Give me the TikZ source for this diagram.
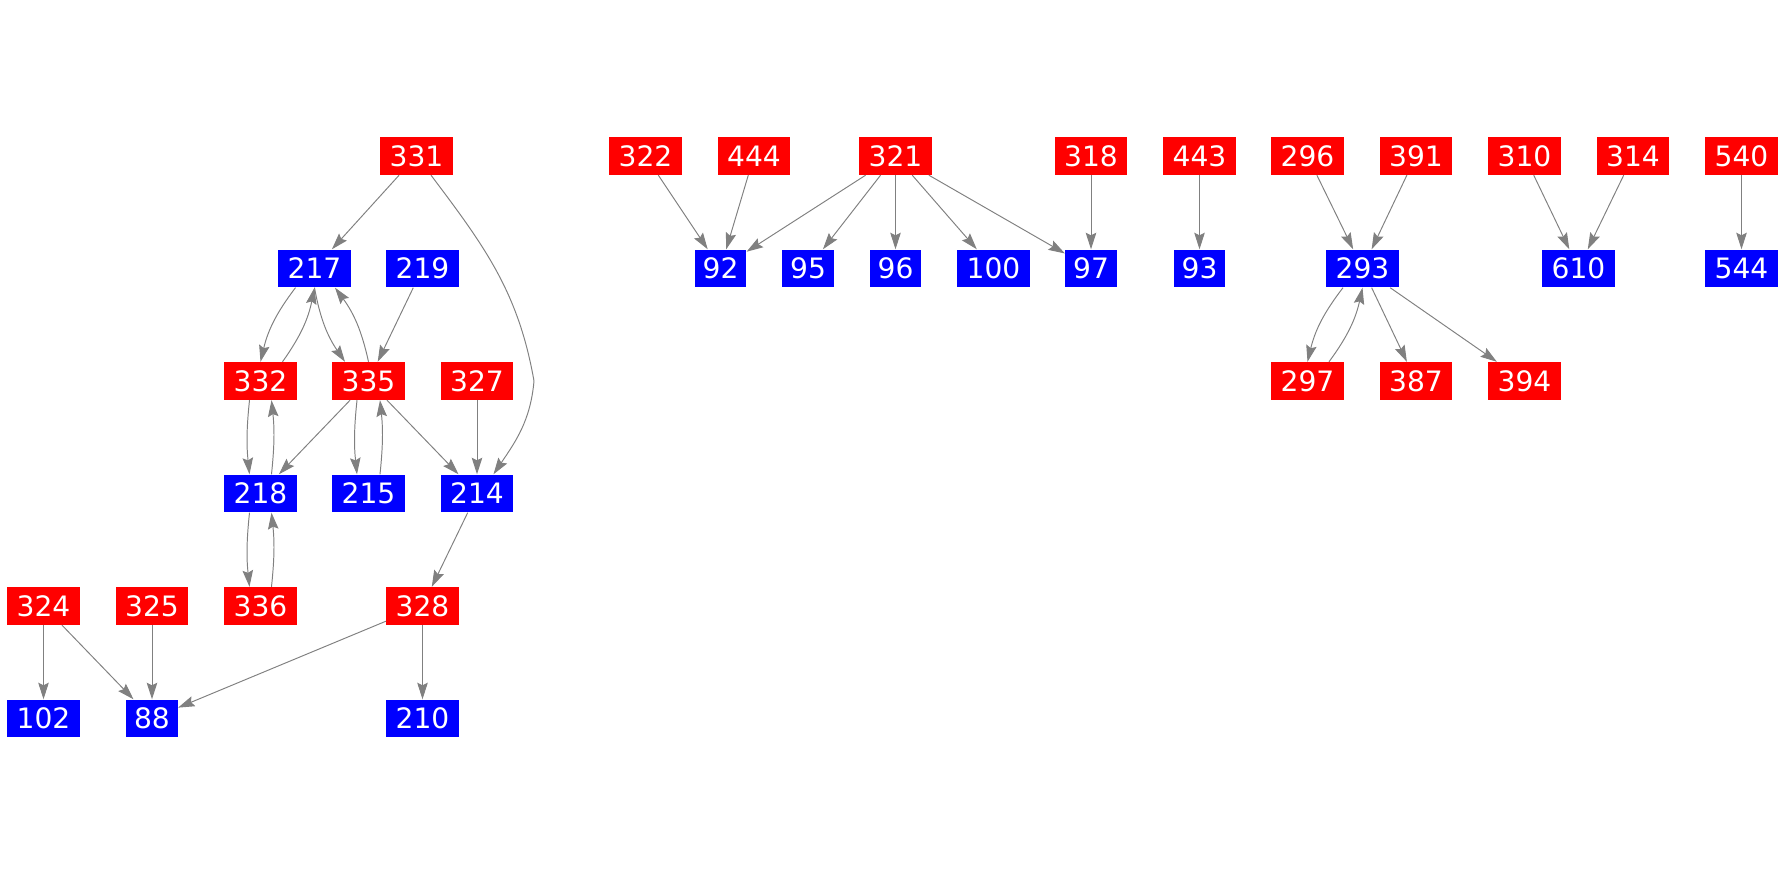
\documentclass[tikz,border=0pt]{standalone}
\usepackage{fontspec}
\setmainfont{DejaVu Sans}
\usetikzlibrary{arrows.meta}

\begin{document}
\begin{tikzpicture}[
  knoten/.style={rectangle, inner sep=0pt, minimum width=1.45cm, minimum height=0.754cm,
    text=white, font=\fontsize{16pt}{19pt}\selectfont},
  rot/.style={knoten, fill=red},
  blau/.style={knoten, fill=blue},
  schmal/.style={minimum width=1.03cm},
  kante/.style={draw=gray, line width=0.55pt, -{Stealth[length=0.33cm, width=0.21cm, inset=0.05cm]}}
]
  \useasboundingbox (0,0) rectangle (35.7,17.5);

  % Zeile 1
  \node[rot] (n331) at (8.33,14.38) {331};
  \node[rot] (n322) at (12.91,14.38) {322};
  \node[rot] (n444) at (15.08,14.38) {444};
  \node[rot] (n321) at (17.91,14.38) {321};
  \node[rot] (n318) at (21.82,14.38) {318};
  \node[rot] (n443) at (23.99,14.38) {443};
  \node[rot] (n296) at (26.15,14.38) {296};
  \node[rot] (n391) at (28.32,14.38) {391};
  \node[rot] (n310) at (30.49,14.38) {310};
  \node[rot] (n314) at (32.66,14.38) {314};
  \node[rot] (n540) at (34.83,14.38) {540};

  % Zeile 2
  \node[blau] (n217) at (6.29,12.13) {217};
  \node[blau] (n219) at (8.45,12.13) {219};
  \node[blau,schmal] (n92) at (14.41,12.13) {92};
  \node[blau,schmal] (n95) at (16.16,12.13) {95};
  \node[blau,schmal] (n96) at (17.91,12.13) {96};
  \node[blau] (n100) at (19.87,12.13) {100};
  \node[blau,schmal] (n97) at (21.82,12.13) {97};
  \node[blau,schmal] (n93) at (23.99,12.13) {93};
  \node[blau] (n293) at (27.25,12.13) {293};
  \node[blau] (n610) at (31.57,12.13) {610};
  \node[blau] (n544) at (34.83,12.13) {544};

  % Zeile 3
  \node[rot] (n332) at (5.21,9.88) {332};
  \node[rot] (n335) at (7.37,9.88) {335};
  \node[rot] (n327) at (9.54,9.88) {327};
  \node[rot] (n297) at (26.15,9.88) {297};
  \node[rot] (n387) at (28.32,9.88) {387};
  \node[rot] (n394) at (30.49,9.88) {394};

  % Zeile 4
  \node[blau] (n218) at (5.21,7.63) {218};
  \node[blau] (n215) at (7.37,7.63) {215};
  \node[blau] (n214) at (9.54,7.63) {214};

  % Zeile 5
  \node[rot] (n324) at (0.87,5.38) {324};
  \node[rot] (n325) at (3.04,5.38) {325};
  \node[rot] (n336) at (5.21,5.38) {336};
  \node[rot] (n328) at (8.45,5.38) {328};

  % Zeile 6
  \node[blau] (n102) at (0.87,3.13) {102};
  \node[blau,schmal] (n88) at (3.04,3.13) {88};
  \node[blau] (n210) at (8.45,3.13) {210};

  % Kanten links
  \coordinate (k331) at (10.68,9.88);
  \draw[kante] (n331) -- (n217);
  \draw[kante] ([xshift=0.29cm]n331.south) to[out=-53,in=100] (k331) to[out=-95,in=56] ([xshift=0.33cm]n214.north);
  \draw[kante] ([xshift=-0.38cm]n217.south) to[bend right=12] (n332.north);
  \draw[kante] ([xshift=0.44cm]n332.north) to[bend right=12] (n217.south);
  \draw[kante] (n217.south) to[bend right=12] ([xshift=-0.47cm]n335.north);
  \draw[kante] (n335.north) to[bend right=12] ([xshift=0.41cm]n217.south);
  \draw[kante] (n219) -- (n335);
  \draw[kante] ([xshift=-0.22cm]n332.south) to[bend right=6] ([xshift=-0.22cm]n218.north);
  \draw[kante] ([xshift=0.22cm]n218.north) to[bend right=6] ([xshift=0.22cm]n332.south);
  \draw[kante] (n335) -- (n218);
  \draw[kante] ([xshift=-0.23cm]n335.south) to[bend right=6] ([xshift=-0.23cm]n215.north);
  \draw[kante] ([xshift=0.23cm]n215.north) to[bend right=6] ([xshift=0.23cm]n335.south);
  \draw[kante] (n335) -- (n214);
  \draw[kante] (n327) -- (n214);
  \draw[kante] ([xshift=-0.22cm]n218.south) to[bend right=6] ([xshift=-0.22cm]n336.north);
  \draw[kante] ([xshift=0.22cm]n336.north) to[bend right=6] ([xshift=0.22cm]n218.south);
  \draw[kante] (n214) -- (n328);
  \draw[kante] (n324) -- (n102);
  \draw[kante] (n324) -- (n88);
  \draw[kante] (n325) -- (n88);
  \draw[kante] (n328) -- (n88);
  \draw[kante] (n328) -- (n210);

  % Kanten Mitte
  \draw[kante] (n322) -- (n92);
  \draw[kante] (n444) -- (n92);
  \draw[kante] (n321) -- (n92);
  \draw[kante] (n321) -- (n95);
  \draw[kante] (n321) -- (n96);
  \draw[kante] (n321) -- (n100);
  \draw[kante] (n321) -- (n97);
  \draw[kante] (n318) -- (n97);
  \draw[kante] (n443) -- (n93);

  % Kanten rechts
  \draw[kante] (n296) -- (n293);
  \draw[kante] (n391) -- (n293);
  \draw[kante] ([xshift=-0.39cm]n293.south) to[bend right=12] (n297.north);
  \draw[kante] ([xshift=0.43cm]n297.north) to[bend right=12] (n293.south);
  \draw[kante] (n293) -- (n387);
  \draw[kante] (n293) -- (n394);
  \draw[kante] (n310) -- (n610);
  \draw[kante] (n314) -- (n610);
  \draw[kante] (n540) -- (n544);
\end{tikzpicture}
\end{document}
